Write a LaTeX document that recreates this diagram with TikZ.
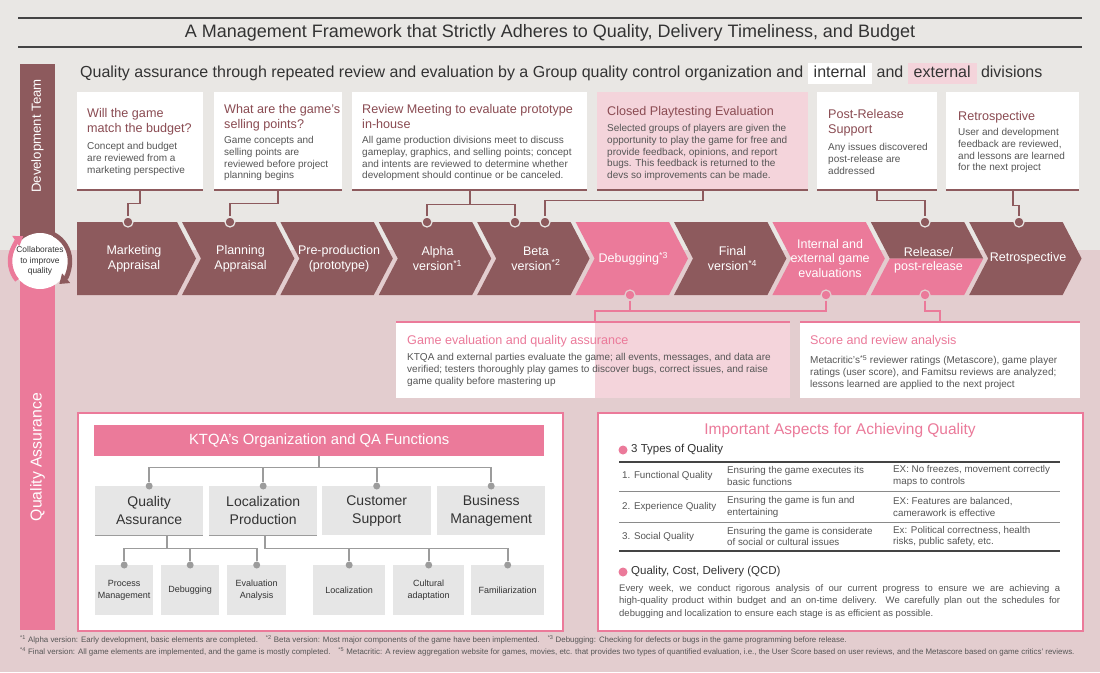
\documentclass[tikz,border=0pt]{standalone}
\usepackage{fontspec}
\setmainfont{Liberation Sans}
\usetikzlibrary{arrows.meta}
\definecolor{bgtop}{HTML}{E9E7E4}
\definecolor{bgbot}{HTML}{E3CDCF}
\definecolor{mauve}{HTML}{8D5A5D}
\definecolor{pinkc}{HTML}{EB7A9A}
\definecolor{lpink}{HTML}{F4D4DB}
\definecolor{ttlc}{HTML}{8A4B52}
\definecolor{bodyc}{HTML}{565656}
\definecolor{graybox}{HTML}{E6E6E6}
\definecolor{grayln}{HTML}{9C9C9C}
\definecolor{darktxt}{HTML}{333333}
\definecolor{tablinedark}{HTML}{444444}
\definecolor{tablinegray}{HTML}{8A8A8A}
\newcommand\myfs[2]{\fontsize{#1}{#2}\selectfont}
\begin{document}
\begin{tikzpicture}[x=1pt,y=-1pt,
 ttl/.style={anchor=north west,align=left,inner sep=0pt,text=ttlc,font=\myfs{12.6}{15.5}},
 bdy/.style={anchor=north west,align=left,inner sep=0pt,text=bodyc,font=\myfs{10}{11.8}},
 mttl/.style={anchor=north west,align=left,inner sep=0pt,text=pinkc,font=\myfs{12.6}{15}},
 chevtxt/.style={align=center,inner sep=0pt,text=white,font=\myfs{12.5}{15}},
 topbox/.style={anchor=north west,inner sep=0pt,fill=white,minimum height=98pt},
 ddot/.style={circle,inner sep=0pt,minimum size=10pt,fill=mauve,draw=bgtop,line width=1.2pt},
 pdot/.style={circle,inner sep=0pt,minimum size=10pt,fill=pinkc,draw=bgbot,line width=1.2pt},
 gdot/.style={circle,inner sep=0pt,minimum size=7pt,fill=grayln},
 dconn/.style={draw=mauve,line width=1.6pt},
 pconn/.style={draw=pinkc,line width=1.6pt},
 gconn/.style={draw=grayln,line width=1.8pt},
 orgbox/.style={anchor=north west,inner sep=0pt,fill=graybox,align=center,text=darktxt},
 subh/.style={anchor=base west,inner sep=0pt,text=darktxt,font=\myfs{16}{18}},
 tabtxt/.style={anchor=west,align=left,inner sep=0pt,text=bodyc,font=\myfs{9.8}{11.5}},
 bullet/.style={circle,inner sep=0pt,minimum size=9pt,fill=pinkc},
 foot/.style={anchor=base west,inner sep=0pt,text=bodyc,font=\myfs{7.9}{10}}
]
\useasboundingbox (0,0) rectangle (1100,672);
\fill[bgtop] (0,0) rectangle (1100,250);
\fill[bgbot] (0,250) rectangle (1100,672);

% title
\draw[line width=1.3pt,tablinedark] (18,18) -- (1082,18);
\draw[line width=1.3pt,tablinedark] (18,47) -- (1082,47);
\node[inner sep=0pt,text=darktxt,font=\myfs{18}{20}] (title) at (550,33) {A Management Framework that Strictly Adheres to Quality, Delivery Timeliness, and Budget};

% subheading
\node[subh] (s1) at (80,77.5) {Quality assurance through repeated review and evaluation by a Group quality control organization and};
\node[subh,fill=white,inner xsep=6pt,inner ysep=3pt,text height=11.5pt,text depth=3pt] (s2) at ([xshift=4pt]s1.base east) {internal};
\node[subh] (s3) at ([xshift=4pt]s2.base east) {and};
\node[subh,fill=lpink,inner xsep=6pt,inner ysep=3pt,text height=11.5pt,text depth=3pt] (s4) at ([xshift=4pt]s3.base east) {external};
\node[subh] (s5) at ([xshift=4pt]s4.base east) {divisions};

% left bars
\fill[mauve] (20,64) rectangle (55,252);
\fill[pinkc] (20,252) rectangle (55,630);
\node[rotate=90,inner sep=0pt,text=white,font=\myfs{13.2}{16}] (devt) at (37.5,136) {Development Team};
\node[rotate=90,inner sep=0pt,text=white,font=\myfs{15.8}{18}] (qat) at (37.5,457) {Quality Assurance};
\coordinate (cc) at (40,261);
\node[circle,fill=white,minimum size=56pt,inner sep=0pt,align=center,text=darktxt,font=\myfs{8.4}{10.5}] (collab) at (cc) {Collaborates\\to improve\\quality};
\draw[pinkc,line width=4.5pt,-{Triangle[width=12pt,length=9pt]}] ([shift={(140:30)}]cc) arc (140:236:30);
\draw[mauve,line width=4.5pt,-{Triangle[width=12pt,length=9pt]}] ([shift={(-62:30)}]cc) arc (-62:50:30);

% top boxes
\node[topbox,minimum width=126pt] (b1) at (77,92) {};
\node[topbox,minimum width=128pt] (b2) at (214,92) {};
\node[topbox,minimum width=235pt] (b3) at (352,92) {};
\node[topbox,minimum width=211pt,fill=lpink] (b4) at (597,92) {};
\node[topbox,minimum width=120pt] (b5) at (817,92) {};
\node[topbox,minimum width=133pt] (b6) at (946,92) {};
\foreach \b in {b1,b2,b3,b4,b5,b6} \draw[mauve,line width=2pt] (\b.south west) -- (\b.south east);

\node[ttl] (t1) at (87,108) {Will the game\\match the budget?};
\node[bdy] (x1) at (87,142) {Concept and budget\\are reviewed from a\\marketing perspective};
\node[ttl] (t2) at (224,104) {What are the game's\\selling points?};
\node[bdy] (x2) at (224,136) {Game concepts and\\selling points are\\reviewed before project\\planning begins};
\node[ttl] (t3) at (362,104) {Review Meeting to evaluate prototype\\in-house};
\node[bdy] (x3) at (362,136) {All game production divisions meet to discuss\\gameplay, graphics, and selling points; concept\\and intents are reviewed to determine whether\\development should continue or be canceled.};
\node[ttl] (t4) at (607,106) {Closed Playtesting Evaluation};
\node[bdy] (x4) at (607,124) {Selected groups of players are given the\\opportunity to play the game for free and\\provide feedback, opinions, and report\\bugs. This feedback is returned to the\\devs so improvements can be made.};
\node[ttl] (t5) at (828,109) {Post-Release\\Support};
\node[bdy] (x5) at (828,143) {Any issues discovered\\post-release are\\addressed};
\node[ttl] (t6) at (958,111) {Retrospective};
\node[bdy] (x6) at (958,128) {User and development\\feedback are reviewed,\\and lessons are learned\\for the next project};

% chevrons
\fill[mauve] (77,222) -- (177,222) -- (196,258.5) -- (177,295) -- (77,295) -- cycle;
\foreach \i/\col in {2/mauve,3/mauve,4/mauve,5/mauve,6/pinkc,7/mauve,8/pinkc,10/mauve} {
  \pgfmathsetmacro\R{177+98.4*(\i-1)}
  \pgfmathsetmacro\L{\R-93.4}
  \fill[\col] (\L,222) -- (\R,222) -- (\R+19,258.5) -- (\R,295) -- (\L,295) -- (\L+19,258.5) -- cycle;
}
\fill[mauve] (870.8,222) -- (964.2,222) -- (983.2,258.5) -- (889.8,258.5) -- cycle;
\fill[pinkc] (889.8,258.5) -- (983.2,258.5) -- (964.2,295) -- (870.8,295) -- cycle;

\node[chevtxt] (c1) at (134,258.5) {Marketing\\Appraisal};
\node[chevtxt] (c2) at (240.5,258.5) {Planning\\Appraisal};
\node[chevtxt] (c3) at (339,258.5) {Pre-production\\(prototype)};
\node[chevtxt] (c4) at (437.5,258.5) {Alpha\\version\textsuperscript{*1}};
\node[chevtxt] (c5) at (535.9,258.5) {Beta\\version\textsuperscript{*2}};
\node[chevtxt] (c6) at (633.3,258.5) {Debugging\textsuperscript{*3}};
\node[chevtxt] (c7) at (732.5,258.5) {Final\\version\textsuperscript{*4}};
\node[chevtxt,font=\myfs{12.5}{14.5}] (c8) at (830.1,258.5) {Internal and\\external game\\evaluations};
\node[chevtxt,anchor=base] (c9a) at (928.5,256) {Release/};
\node[chevtxt,anchor=base] (c9b) at (928.5,270) {post-release};
\node[chevtxt] (c10) at (1028,258.5) {Retrospective};

% dots
\node[ddot] (d1) at (128,222) {};
\node[ddot] (d2) at (230,222) {};
\node[ddot] (d4) at (427,222) {};
\node[ddot] (d5a) at (515,222) {};
\node[ddot] (d5b) at (545,222) {};
\node[ddot] (d9) at (925,222) {};
\node[ddot] (d10) at (1019,222) {};
\node[pdot] (e6) at (630,295) {};
\node[pdot] (e8) at (826,295) {};
\node[pdot] (e9) at (925,295) {};

% top connectors
\draw[dconn] (b1.south) -- ++(0,13) -| (d1.north);
\draw[dconn] (b2.south) -- ++(0,13) -| (d2.north);
\draw[dconn] (b3.south) -- ++(0,14) coordinate (j3);
\draw[dconn] (d4.north) |- (j3) -| (d5a.north);
\draw[dconn] (b4.south) -- ++(0,10) -| (d5b.north);
\draw[dconn] (b5.south) -- ++(0,10) -| (d9.north);
\draw[dconn] (b6.south) -- ++(0,15) -| (d10.north);

% middle boxes
\node[anchor=north west,fill=white,minimum width=394pt,minimum height=76pt,inner sep=0pt] (mA) at (396,322) {};
\fill[lpink] (595,322) rectangle (790,398);
\draw[pinkc,line width=2pt] (mA.north west) -- (mA.north east);
\node[anchor=north west,fill=white,minimum width=280pt,minimum height=76pt,inner sep=0pt] (mB) at (800,322) {};
\draw[pinkc,line width=2pt] (mB.north west) -- (mB.north east);
\coordinate (jA) at (595,311);
\coordinate (jB) at (940,311);
\draw[pconn] (e6.south) -- (e6.south |- jA);
\draw[pconn] (e8.south) |- (jA) -- (jA |- mA.north);
\draw[pconn] (e9.south) |- (jB) -- (jB |- mB.north);
\node[mttl] (mAt) at (407,335) {Game evaluation and quality assurance};
\node[bdy] (mAx) at (407,353) {KTQA and external parties evaluate the game; all events, messages, and data are\\verified; testers thoroughly play games to discover bugs, correct issues, and raise\\game quality before mastering up};
\node[mttl] (mBt) at (810,335) {Score and review analysis};
\node[bdy] (mBx) at (810,355) {Metacritic's\textsuperscript{*5} reviewer ratings (Metascore), game player\\ratings (user score), and Famitsu reviews are analyzed;\\lessons learned are applied to the next project};

% bottom left panel
\node[anchor=north west,fill=white,draw=pinkc,line width=1.5pt,minimum width=485pt,minimum height=218pt,inner sep=0pt] (lpan) at (77,412) {};
\node[anchor=north west,fill=pinkc,minimum width=450pt,minimum height=31pt,inner sep=0pt,text=white,font=\myfs{14.8}{16}] (kt) at (94,425) {KTQA's Organization and QA Functions};
\node[orgbox,minimum width=108pt,minimum height=49pt,font=\myfs{14}{18}] (qa) at (95,486) {Quality\\Assurance};
\node[orgbox,minimum width=108pt,minimum height=49pt,font=\myfs{14}{18}] (lp) at (209,486) {Localization\\Production};
\node[orgbox,minimum width=109pt,minimum height=49pt,font=\myfs{14}{18}] (cs) at (322,486) {Customer\\Support};
\node[orgbox,minimum width=108pt,minimum height=49pt,font=\myfs{14}{18}] (bm) at (437,486) {Business\\Management};
\draw[grayln,line width=1.5pt] (qa.south west) -- (qa.south east);
\draw[grayln,line width=1.5pt] (lp.south west) -- (lp.south east);
\node[orgbox,minimum width=58pt,minimum height=50pt,font=\myfs{9}{12}] (pm) at (95,565) {Process\\Management};
\node[orgbox,minimum width=58pt,minimum height=50pt,font=\myfs{9}{12}] (db) at (161,565) {Debugging};
\node[orgbox,minimum width=59pt,minimum height=50pt,font=\myfs{9}{12}] (ea) at (227,565) {Evaluation\\Analysis};
\node[orgbox,minimum width=72pt,minimum height=50pt,font=\myfs{9}{12}] (lo) at (313,565) {Localization};
\node[orgbox,minimum width=71pt,minimum height=50pt,font=\myfs{9}{12}] (ca) at (393,565) {Cultural\\adaptation};
\node[orgbox,minimum width=73pt,minimum height=50pt,font=\myfs{9}{12}] (fa) at (471,565) {Familiarization};
\foreach \n in {qa,lp,cs,bm,pm,db,ea,lo,ca,fa} \node[gdot] (g\n) at (\n.north) {};
\draw[gconn] (kt.south) -- ++(0,11) coordinate (kj);
\draw[gconn] (gqa |- kj) -- (gbm |- kj);
\foreach \n in {gqa,glp,gcs,gbm} \draw[gconn] (\n |- kj) -- (\n.north);
\draw[gconn] ([xshift=18pt]qa.south) -- ++(0,13) coordinate (qj);
\draw[gconn] (gpm |- qj) -- (gea |- qj);
\foreach \n in {gpm,gdb,gea} \draw[gconn] (\n |- qj) -- (\n.north);
\draw[gconn] ([xshift=2pt]lp.south) -- ++(0,13) coordinate (lj) -- (gfa |- lj);
\foreach \n in {glo,gca,gfa} \draw[gconn] (\n |- lj) -- (\n.north);

% bottom right panel
\node[anchor=north west,fill=white,draw=pinkc,line width=1.5pt,minimum width=485pt,minimum height=218pt,inner sep=0pt] (rpan) at (597,412) {};
\node[inner sep=0pt,text=pinkc,font=\myfs{15.5}{17}] (iaq) at (840,430) {Important Aspects for Achieving Quality};
\node[bullet] (bu1) at (623,450) {};
\node[anchor=west,inner sep=0pt,text=darktxt,font=\myfs{11.5}{13}] (tq) at (631,450) {3 Types of Quality};
\draw[tablinedark,line width=1.3pt] (619,462) -- (1060,462);
\draw[tablinegray,line width=1pt] (619,491) -- (1060,491);
\draw[tablinegray,line width=1pt] (619,522) -- (1060,522);
\draw[tablinedark,line width=1.3pt] (619,551) -- (1060,551);
\node[tabtxt] (r1a) at (622,476) {1. Functional Quality};
\node[tabtxt] (r1b) at (727,476) {Ensuring the game executes its\\basic functions};
\node[tabtxt] (r1c) at (893,476) {EX: No freezes, movement correctly\\maps to controls};
\node[tabtxt] (r2a) at (622,507) {2. Experience Quality};
\node[tabtxt] (r2b) at (727,507) {Ensuring the game is fun and\\entertaining};
\node[tabtxt] (r2c) at (893,507) {EX: Features are balanced,\\camerawork is effective};
\node[tabtxt] (r3a) at (622,536.5) {3. Social Quality};
\node[tabtxt] (r3b) at (727,536.5) {Ensuring the game is considerate\\of social or cultural issues};
\node[tabtxt] (r3c) at (893,536.5) {Ex: Political correctness, health\\risks, public safety, etc.};
\node[bullet] (bu2) at (623,572) {};
\node[anchor=west,inner sep=0pt,text=darktxt,font=\myfs{11.5}{13}] (tqcd) at (631,572) {Quality, Cost, Delivery (QCD)};
\node[anchor=north west,inner sep=0pt,align=left,text=bodyc,font=\myfs{9.5}{12.5}] (qcdp) at (619,584.2) {\makebox[441pt][s]{Every week, we conduct rigorous analysis of our current progress to ensure we are achieving a}\\\makebox[441pt][s]{high-quality product within budget and an on-time delivery. We carefully plan out the schedules for}\\debugging and localization to ensure each stage is as efficient as possible.};

% footnotes
\node[foot] (fn1) at (20,642.5) {\textsuperscript{*1} Alpha version: Early development, basic elements are completed.\quad \textsuperscript{*2} Beta version: Most major components of the game have been implemented.\quad \textsuperscript{*3} Debugging: Checking for defects or bugs in the game programming before release.};
\node[foot] (fn2) at (20,654.5) {\textsuperscript{*4} Final version: All game elements are implemented, and the game is mostly completed.\quad \textsuperscript{*5} Metacritic: A review aggregation website for games, movies, etc. that provides two types of quantified evaluation, i.e., the User Score based on user reviews, and the Metascore based on game critics' reviews.};
\end{tikzpicture}
\end{document}
